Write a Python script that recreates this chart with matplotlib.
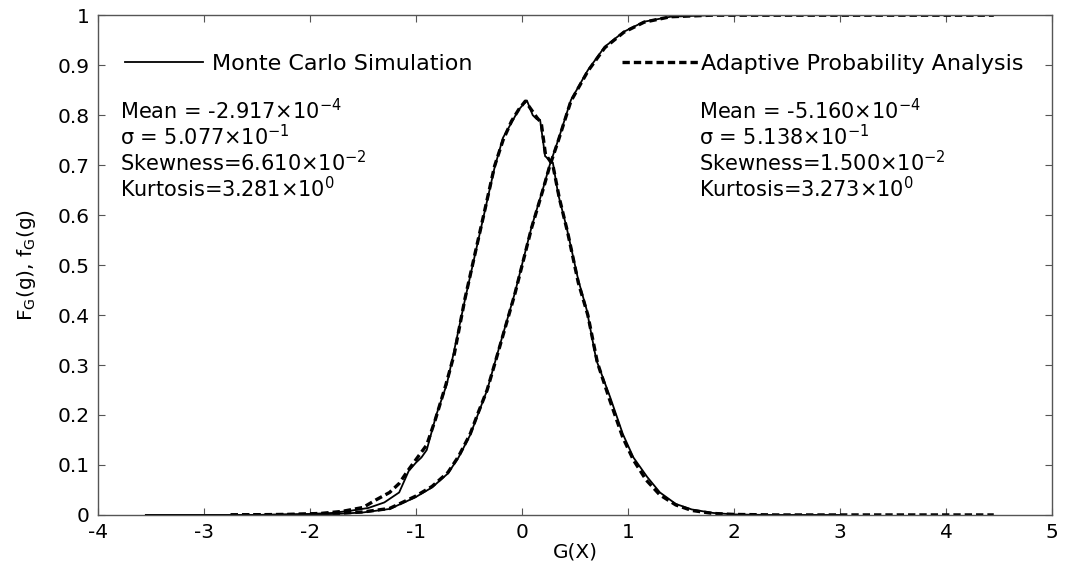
import matplotlib
matplotlib.use("Agg")
import matplotlib.pyplot as plt

# Monte Carlo simulation: PDF (histogram-like, jagged) and CDF
mc_pdf_x = [-3.55, -2.5, -2.0, -1.79, -1.6, -1.45, -1.3, -1.16, -1.07, -1.0, -0.95, -0.90,
            -0.81, -0.71, -0.65, -0.54, -0.44, -0.35, -0.26, -0.18, -0.10, -0.035, 0.044,
            0.10, 0.138, 0.17, 0.217, 0.29, 0.34, 0.42, 0.53, 0.61, 0.70, 0.83, 0.95, 1.05,
            1.18, 1.30, 1.45, 1.60, 1.80, 2.0, 2.3, 3.0]
mc_pdf_y = [0.0, 0.0, 0.002, 0.004, 0.009, 0.014, 0.025, 0.045, 0.088, 0.105, 0.115, 0.13,
            0.20, 0.262, 0.32, 0.43, 0.525, 0.61, 0.695, 0.755, 0.785, 0.81, 0.83,
            0.80, 0.792, 0.79, 0.718, 0.705, 0.642, 0.575, 0.47, 0.41, 0.31, 0.236, 0.162,
            0.115, 0.076, 0.045, 0.022, 0.011, 0.004, 0.001, 0.0, 0.0]

mc_cdf_x = [-3.55, -2.5, -2.0, -1.75, -1.5, -1.25, -1.01, -0.85, -0.70, -0.6, -0.49,
            -0.41, -0.33, -0.23, -0.07, 0.09, 0.2, 0.26, 0.34, 0.46, 0.62, 0.78, 0.96,
            1.15, 1.40, 1.78]
mc_cdf_y = [0.0, 0.0, 0.001, 0.002, 0.005, 0.012, 0.035, 0.055, 0.083, 0.115, 0.16,
            0.205, 0.25, 0.325, 0.443, 0.577, 0.655, 0.70, 0.75, 0.83, 0.89, 0.937, 0.967,
            0.987, 0.997, 1.0]

# Adaptive probability analysis: PDF and CDF
apa_pdf_x = [-2.75, -2.2, -1.9, -1.7, -1.5, -1.38, -1.25, -1.16, -1.08, -0.98, -0.9,
             -0.82, -0.72, -0.64, -0.54, -0.44, -0.35, -0.26, -0.18, -0.10, -0.03, 0.03,
             0.09, 0.14, 0.18, 0.22, 0.29, 0.35, 0.43, 0.53, 0.62, 0.71, 0.83, 0.95, 1.05,
             1.17, 1.3, 1.45, 1.6, 1.8, 2.0, 2.4, 3.0, 4.45]
apa_pdf_y = [0.0, 0.001, 0.003, 0.007, 0.015, 0.03, 0.045, 0.063, 0.088, 0.117, 0.14,
             0.19, 0.26, 0.322, 0.432, 0.527, 0.612, 0.698, 0.75, 0.788, 0.812, 0.828,
             0.81, 0.795, 0.785, 0.722, 0.700, 0.635, 0.565, 0.465, 0.40, 0.305, 0.228, 0.155,
             0.11, 0.07, 0.04, 0.02, 0.009, 0.003, 0.001, 0.0, 0.0, 0.0]

apa_cdf_x = [-2.75, -2.0, -1.75, -1.5, -1.25, -1.01, -0.85, -0.70, -0.6, -0.49, -0.41,
             -0.33, -0.23, -0.07, 0.09, 0.2, 0.26, 0.34, 0.46, 0.62, 0.78, 0.96, 1.15,
             1.40, 1.78, 4.45]
apa_cdf_y = [0.0, 0.001, 0.003, 0.006, 0.013, 0.037, 0.057, 0.085, 0.117, 0.162, 0.207,
             0.25, 0.323, 0.441, 0.575, 0.653, 0.698, 0.748, 0.828, 0.888, 0.935, 0.966,
             0.986, 0.997, 1.0, 1.0]

mc_stats = [r"Mean = -2.917×10$^{-4}$", r"σ = 5.077×10$^{-1}$",
            r"Skewness=6.610×10$^{-2}$", r"Kurtosis=3.281×10$^{0}$"]
apa_stats = [r"Mean = -5.160×10$^{-4}$", r"σ = 5.138×10$^{-1}$",
             r"Skewness=1.500×10$^{-2}$", r"Kurtosis=3.273×10$^{0}$"]

FS = 14.5
LEG_FS = 16
STAT_FS = 15
plt.rcParams["font.family"] = ["DejaVu Sans"]
plt.rcParams["mathtext.fontset"] = "dejavusans"
plt.rcParams["axes.unicode_minus"] = False

fig = plt.figure(figsize=(10.67, 5.64), dpi=100)
ax = fig.add_axes([0.092, 0.087, 0.894, 0.886])

solid_kw = dict(color="black", lw=1.3, solid_joinstyle="miter")
dash_kw = dict(color="black", lw=2.4, linestyle=(0, (2.2, 1.2)))

mc_line, = ax.plot(mc_pdf_x, mc_pdf_y, **solid_kw)
ax.plot(mc_cdf_x, mc_cdf_y, **solid_kw)
apa_line, = ax.plot(apa_pdf_x, apa_pdf_y, **dash_kw)
ax.plot(apa_cdf_x, apa_cdf_y, **dash_kw)

ax.set_xlim(-4, 5)
ax.set_ylim(0, 1)
ax.set_xticks(range(-4, 6))
ax.set_yticks([0, 0.1, 0.2, 0.3, 0.4, 0.5, 0.6, 0.7, 0.8, 0.9, 1])
ax.set_yticklabels(["0", "0.1", "0.2", "0.3", "0.4", "0.5", "0.6", "0.7", "0.8", "0.9", "1"])
ax.tick_params(direction="in", length=5, width=0.8, top=True, right=True,
               labelsize=FS, color="#555555", pad=6)
for sp in ax.spines.values():
    sp.set_color("#555555")
    sp.set_linewidth(1.0)

ax.set_xlabel("G(X)", fontsize=FS, labelpad=0)
ax.set_ylabel(r"F$_\mathregular{G}$(g), f$_\mathregular{G}$(g)", fontsize=FS, labelpad=14)

leg1 = ax.legend([mc_line], ["Monte Carlo Simulation"], loc="center left",
                 bbox_to_anchor=(0.028, 0.902), frameon=False, fontsize=LEG_FS,
                 handlelength=3.5, handletextpad=0.4, borderpad=0, borderaxespad=0)
ax.add_artist(leg1)
ax.legend([apa_line], ["Adaptive Probability Analysis"], loc="center left",
          bbox_to_anchor=(0.549, 0.902), frameon=False, fontsize=LEG_FS,
          handlelength=3.45, handletextpad=0.12, borderpad=0, borderaxespad=0)

ax.text(0.023, 0.835, "\n".join(mc_stats), transform=ax.transAxes, fontsize=STAT_FS,
        va="top", ha="left", linespacing=1.05)
ax.text(0.630, 0.835, "\n".join(apa_stats), transform=ax.transAxes, fontsize=STAT_FS,
        va="top", ha="left", linespacing=1.05)

fig.savefig("out.png", dpi=100)
